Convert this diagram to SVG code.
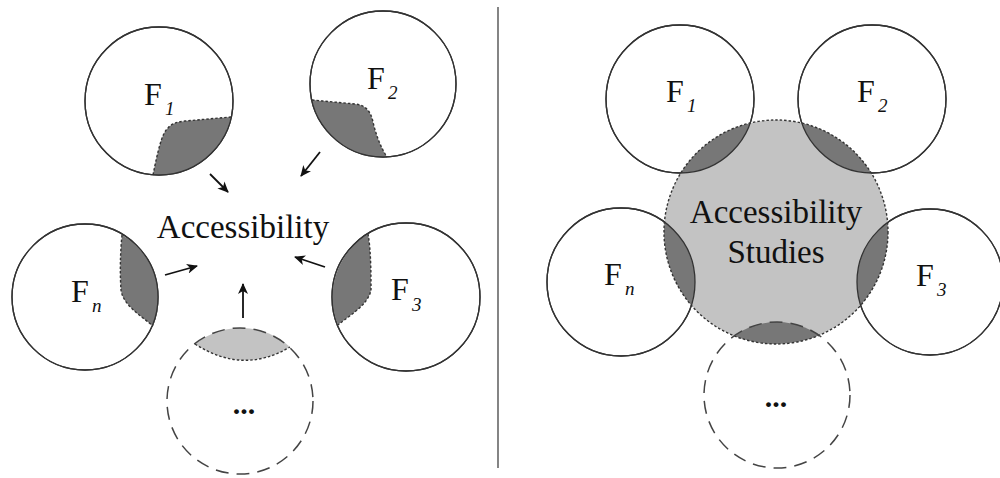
<svg xmlns="http://www.w3.org/2000/svg" width="1000" height="478" viewBox="0 0 1000 478">
<style>
.c{fill:#fff;stroke:#333;stroke-width:1.3}
.cs{fill:none;stroke:#333;stroke-width:1.3}
.dc{fill:none;stroke:#444;stroke-width:1.5;stroke-dasharray:13 8}
.dk{fill:#777}
.lt{fill:#c3c3c3}
.bd{fill:none;stroke:#333;stroke-width:1.4;stroke-dasharray:2.5 2}
.F{font-family:"Liberation Serif",serif;font-size:32px;fill:#111}
.s{font-family:"Liberation Serif",serif;font-size:19px;font-style:italic;fill:#111}
.t{font-family:"Liberation Serif",serif;font-size:33px;fill:#111;text-anchor:middle}
.dots{font-family:"Liberation Serif",serif;font-size:30px;font-weight:bold;fill:#111;text-anchor:middle}
.ar{stroke:#111;stroke-width:1.8;fill:none;marker-end:url(#ah)}
</style>
<defs>
<marker id="ah" markerWidth="12" markerHeight="10" refX="10" refY="5" orient="auto" markerUnits="userSpaceOnUse">
<path d="M0,0 L11,5 L0,10 L3,5 Z" fill="#111"/>
</marker>
<clipPath id="big"><circle cx="776" cy="232" r="112"/></clipPath>
</defs>
<rect width="1000" height="478" fill="#fff"/>
<line x1="498" y1="7" x2="498" y2="468" stroke="#666" stroke-width="1.6"/>

<!-- Left panel -->
<g id="L-F1">
<circle cx="159" cy="101" r="74" class="c"/>
<path class="dk" d="M153,175 C158,150 162,133 168,128 C172,123 178,122 185,121 L231,117 A74,74 0 0 1 153,175 Z"/>
<path class="bd" d="M153,175 C158,150 162,133 168,128 C172,123 178,122 185,121 L231,117"/>
<circle cx="159" cy="101" r="74" class="cs"/>
<text class="F" x="144" y="105">F</text><text class="s" x="165" y="115">1</text>
</g>
<g id="L-F2">
<circle cx="383" cy="84" r="73" class="c"/>
<path class="dk" d="M312,100 L355,104 C366,105 371,112 373,122 C376,135 381,148 387,157 A73,73 0 0 1 312,100 Z"/>
<path class="bd" d="M312,100 L355,104 C366,105 371,112 373,122 C376,135 381,148 387,157"/>
<circle cx="383" cy="84" r="73" class="cs"/>
<text class="F" x="367" y="89">F</text><text class="s" x="388" y="99">2</text>
</g>
<g id="L-Fn">
<circle cx="85" cy="297" r="73" class="c"/>
<path class="dk" d="M122,235 C120,255 120,275 121,290 C123,305 140,315 153,326 A73,73 0 0 0 122,235 Z"/>
<path class="bd" d="M122,235 C120,255 120,275 121,290 C123,305 140,315 153,326"/>
<circle cx="85" cy="297" r="73" class="cs"/>
<text class="F" x="71" y="302">F</text><text class="s" x="92" y="312">n</text>
</g>
<g id="L-F3">
<circle cx="406" cy="297" r="74" class="c"/>
<path class="dk" d="M368,234 C371,250 371,275 371,290 C368,305 350,315 338,325 A74,74 0 0 1 368,234 Z"/>
<path class="bd" d="M368,234 C371,250 371,275 371,290 C368,305 350,315 338,325"/>
<circle cx="406" cy="297" r="74" class="cs"/>
<text class="F" x="391" y="300">F</text><text class="s" x="412" y="311">3</text>
</g>
<g id="L-more">
<path class="lt" d="M195,344 A73,73 0 0 1 290,347 Q243,375 195,344 Z"/>
<path class="bd" d="M195,344 Q243,375 290,347"/>
<circle cx="240" cy="401" r="73" class="dc"/>
<text class="dots" x="244" y="414">...</text>
</g>
<g id="L-center">
<text class="t" x="243" y="238">Accessibility</text>
</g>
<g id="connectors">
<line class="ar" x1="210" y1="174" x2="228" y2="192"/>
<line class="ar" x1="320" y1="152" x2="301" y2="176"/>
<line class="ar" x1="165" y1="275" x2="197" y2="266"/>
<line class="ar" x1="325" y1="267" x2="295" y2="257"/>
<line class="ar" x1="243" y1="318" x2="243" y2="284"/>
</g>

<!-- Right panel -->
<g id="R-circles-fill">
<circle cx="680" cy="99" r="74" class="c"/>
<circle cx="872" cy="99" r="74" class="c"/>
<circle cx="621" cy="282" r="74" class="c"/>
<circle cx="930" cy="282" r="73" class="c"/>
</g>
<g id="R-center">
<circle cx="776" cy="232" r="112" class="lt"/>
<g clip-path="url(#big)">
<circle cx="680" cy="99" r="74" class="dk"/>
<circle cx="872" cy="99" r="74" class="dk"/>
<circle cx="621" cy="282" r="74" class="dk"/>
<circle cx="930" cy="282" r="73" class="dk"/>
<circle cx="777" cy="395" r="73" class="dk"/>
</g>
<circle cx="776" cy="232" r="112" class="bd"/>
<text class="t" x="776" y="223">Accessibility</text>
<text class="t" x="776" y="263">Studies</text>
</g>
<g id="R-F1">
<circle cx="680" cy="99" r="74" class="cs"/>
<text class="F" x="666" y="102">F</text><text class="s" x="687" y="112">1</text>
</g>
<g id="R-F2">
<circle cx="872" cy="99" r="74" class="cs"/>
<text class="F" x="857" y="102">F</text><text class="s" x="878" y="112">2</text>
</g>
<g id="R-Fn">
<circle cx="621" cy="282" r="74" class="cs"/>
<text class="F" x="604" y="285">F</text><text class="s" x="625" y="295">n</text>
</g>
<g id="R-F3">
<circle cx="930" cy="282" r="73" class="cs"/>
<text class="F" x="916" y="286">F</text><text class="s" x="937" y="296">3</text>
</g>
<g id="R-more">
<circle cx="777" cy="395" r="73" class="dc"/>
<text class="dots" x="776" y="407">...</text>
</g>
</svg>
